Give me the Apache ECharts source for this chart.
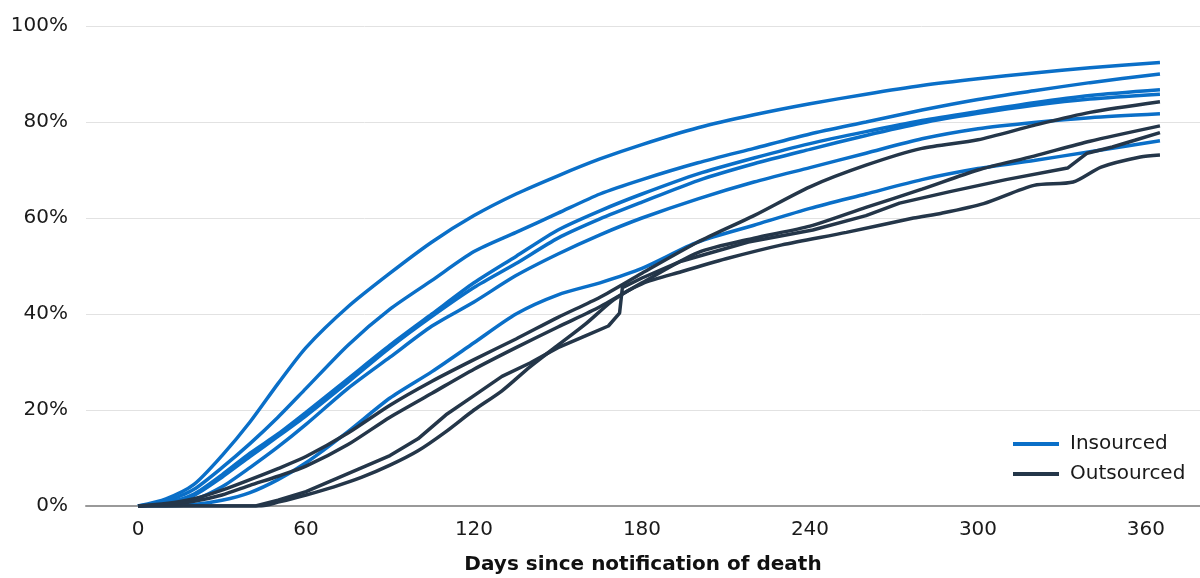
<!DOCTYPE html>
<html>
<head>
<meta charset="utf-8">
<script src="https://cdn.jsdelivr.net/npm/echarts@6/dist/echarts.min.js"></script>
<style>
  html, body { margin: 0; padding: 0; background: #ffffff; }
  #chart { width: 1200px; height: 578px; }
</style>
</head>
<body>
<div id="chart"></div>
<script>
// ---- Data ----
const xTicks = [0, 60, 120, 180, 240, 300, 360];
const yTicks = [0, 20, 40, 60, 80, 100];
const legendNames = ['Insourced', 'Outsourced'];
const xTitle = 'Days since notification of death';

const days = [0, 10, 20, 30, 40, 50, 60, 75, 90, 105, 120, 135, 150, 165, 180, 200, 220, 240, 260, 280, 300, 320, 340, 365];

// Insourced (blue) cumulative %
const insourced1 = [0, 1.5, 4.5, 10.5, 17.5, 25.5, 33, 41.5, 48.5, 55, 60.5, 65, 68.8, 72.3, 75.3, 78.8, 81.5, 83.8, 85.8, 87.6, 89, 90.2, 91.3, 92.4];
const insourced2 = [0, 1, 3.5, 8, 13, 18.5, 24.5, 33.5, 41, 47, 53, 57, 61, 65, 68, 71.5, 74.5, 77.5, 80, 82.5, 84.7, 86.5, 88.2, 90];
const insourced3 = [0, 0.6, 2.5, 6.5, 11, 15, 19.5, 26.5, 33.5, 40, 46.5, 52, 57.5, 61.5, 65, 69.2, 72.5, 75.5, 78, 80.3, 82.2, 84, 85.5, 86.7];
const insourced4 = [0, 0.5, 2.2, 6, 10.3, 14.5, 18.8, 25.8, 33, 39.5, 45.5, 50.5, 55.8, 59.8, 63.3, 67.8, 71.3, 74.3, 77.2, 79.8, 81.8, 83.5, 84.8, 85.8];
const insourced5 = [0, 0.3, 1.3, 4, 8, 12.3, 17, 24.5, 31, 37.5, 42.5, 48, 52.5, 56.5, 60, 64, 67.5, 70.5, 73.5, 76.5, 78.6, 79.9, 80.9, 81.7];
const insourced6 = [0, 0, 0.3, 1.2, 2.8, 5.5, 9, 15.5, 22.5, 28, 34, 40, 44, 46.5, 49.5, 55, 58.5, 62, 65, 68, 70.3, 72, 73.8, 76.1];

// Outsourced (dark) cumulative %
const outsourced1 = [0, 0.5, 1.5, 3.3, 5.5, 7.8, 10.3, 15.2, 21, 26, 30.5, 34.8, 39.3, 43.5, 48.5, 55, 60.5, 66.5, 71, 74.5, 76.3, 79.3, 82, 84.2];
const outsourced2 = [0, 0.3, 1, 2.3, 4.3, 6.2, 8.3, 12.8, 18.5, 23.5, 28.5, 33, 37.3, 41.5, 46.5, 52.8, 55.8, 58.3, 62.2, 66, 70, 72.9, 76, 79.2];
const outsourced3Days = [0, 42, 50, 60, 70, 80, 90, 100, 110, 120, 130, 140, 150, 160, 168, 172, 173, 180, 194, 218, 241, 260, 272, 290, 310, 332, 339, 348, 356, 365];
const outsourced3 = [0, 0, 1.2, 3, 5.5, 8, 10.5, 14, 19, 23, 27, 29.8, 33, 35.5, 37.5, 40.2, 45.5, 47.5, 51, 55, 57.5, 60.5, 63.1, 65.5, 68, 70.4, 73.5, 74.8, 76.2, 77.8];
const outsourced4Days = [0, 44, 50, 60, 70, 80, 90, 100, 110, 120, 130, 140, 150, 160, 170, 180, 194, 210, 230, 253, 277, 287, 302, 320, 334, 344, 358, 365];
const outsourced4 = [0, 0, 0.8, 2.3, 4, 6, 8.5, 11.5, 15.5, 20, 24, 29, 33.5, 38, 43, 46.3, 48.8, 51.5, 54.4, 57, 60, 61, 63, 66.8, 67.5, 70.6, 72.7, 73.1];

// ---- Build options ----
const BLUE = '#0a6fc8';
const DARK = '#243649';
const FONT = 'DejaVu Sans';

function pairs(xs, ys) { return xs.map((x, i) => [x, ys[i]]); }

const insourcedSets = [insourced1, insourced2, insourced3, insourced4, insourced5, insourced6].map(v => pairs(days, v));
const outsourcedSets = [pairs(days, outsourced1), pairs(days, outsourced2), pairs(outsourced3Days, outsourced3), pairs(outsourced4Days, outsourced4)];

const series = [];
insourcedSets.forEach(d => series.push({
  name: legendNames[0], type: 'line', data: d, showSymbol: false, symbol: 'none',
  smooth: 0.25, lineStyle: { color: BLUE, width: 3.5 }, itemStyle: { color: BLUE }, z: 2
}));
outsourcedSets.forEach((d, i) => series.push({
  name: legendNames[1], type: 'line', data: d, showSymbol: false, symbol: 'none',
  smooth: i === 2 ? false : 0.25, lineStyle: { color: DARK, width: 3.5 }, itemStyle: { color: DARK }, z: 3
}));

const chart = echarts.init(document.getElementById('chart'), null, { renderer: 'canvas' });
chart.setOption({
  animation: false,
  backgroundColor: '#ffffff',
  textStyle: { fontFamily: FONT },
  grid: { left: 86, right: 0, top: 26, bottom: 72, containLabel: false, outerBoundsMode: 'none' },
  legend: {
    data: legendNames.map(n => ({ name: n, icon: 'rect' })),
    orient: 'vertical',
    left: 1008, top: 429,
    itemWidth: 46, itemHeight: 4, itemGap: 10,
    textStyle: { fontFamily: FONT, fontSize: 20, color: '#1a1a1a', lineHeight: 20, padding: [0, 0, 0, 6] }
  },
  xAxis: {
    type: 'value',
    min: -18.57, max: 379.3,
    name: xTitle, nameLocation: 'middle', nameGap: 49,
    nameTextStyle: { fontFamily: FONT, fontSize: 20, fontWeight: 'bold', color: '#111' },
    axisLine: { show: true, onZero: false, lineStyle: { color: '#999999', width: 2 } },
    axisTick: { show: false },
    splitLine: { show: false },
    axisLabel: { customValues: xTicks, fontFamily: FONT, fontSize: 20, color: '#1a1a1a', margin: 14 }
  },
  yAxis: {
    type: 'value',
    min: yTicks[0], max: yTicks[yTicks.length - 1], interval: 20,
    axisLine: { show: false },
    axisTick: { show: false },
    splitLine: { show: true, lineStyle: { color: '#e2e2e2', width: 1 } },
    axisLabel: { formatter: '{value}%', fontFamily: FONT, fontSize: 20, color: '#1a1a1a', margin: 18 }
  },
  series: series
});
</script>
</body>
</html>
